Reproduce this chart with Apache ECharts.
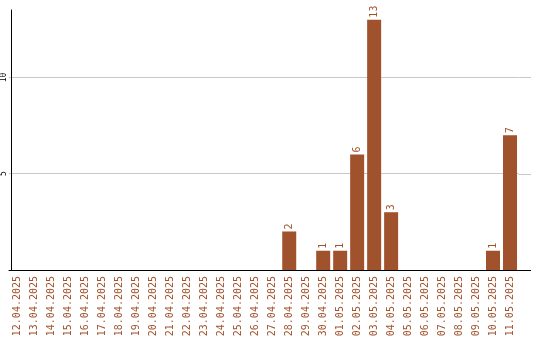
<!DOCTYPE html>
<html><head><meta charset="utf-8">
<script src="https://cdn.jsdelivr.net/npm/echarts@6/dist/echarts.min.js"></script>
<style>html,body{margin:0;padding:0;background:#fff}#c{width:540px;height:340px}</style>
</head><body><div id="c"></div>
<script>
var categories = ["12.04.2025","13.04.2025","14.04.2025","15.04.2025","16.04.2025","17.04.2025","18.04.2025","19.04.2025","20.04.2025","21.04.2025","22.04.2025","23.04.2025","24.04.2025","25.04.2025","26.04.2025","27.04.2025","28.04.2025","29.04.2025","30.04.2025","01.05.2025","02.05.2025","03.05.2025","04.05.2025","05.05.2025","06.05.2025","07.05.2025","08.05.2025","09.05.2025","10.05.2025","11.05.2025"];
var values = [0,0,0,0,0,0,0,0,0,0,0,0,0,0,0,0,2,0,1,1,6,13,3,0,0,0,0,0,1,7];
var gridValues = [5, 10];
var yTickLabels = ["5", "10"];

var chart = echarts.init(document.getElementById('c'), null, {renderer: 'canvas'});
var font = 'DejaVu Sans Mono';
var brown = '#a0522d';
var gridColor = '#c8c8c8';
chart.setOption({
  animation: false,
  grid: {left: 8.5, right: 21.5, top: 10, bottom: 70, containLabel: false},
  xAxis: {
    type: 'category', data: categories, boundaryGap: true,
    axisLine: {show: true, lineStyle: {color: '#000', width: 1}},
    axisTick: {show: false},
    axisLabel: {interval: 0, rotate: 90, color: brown, fontFamily: font, fontSize: 10, margin: 6}
  },
  yAxis: {
    type: 'value', min: 0, max: 13.5, interval: 5, offset: -2,
    axisLine: {show: true, lineStyle: {color: '#000', width: 1}},
    axisTick: {show: false},
    splitLine: {show: false},
    axisLabel: {
      rotate: 90, color: '#000', fontFamily: font, fontSize: 8, margin: 3,
      formatter: function (v) { var i = gridValues.indexOf(v); return i >= 0 ? yTickLabels[i] : ''; }
    }
  },
  series: [{
    type: 'bar', data: values, barWidth: 14,
    itemStyle: {color: brown},
    label: {
      show: true, position: 'top', rotate: 90, align: 'left', verticalAlign: 'middle', distance: 2,
      color: brown, fontFamily: font, fontSize: 10,
      formatter: function (p) { return p.value > 0 ? String(p.value) : ''; }
    },
    markLine: {
      silent: true, symbol: 'none', label: {show: false},
      lineStyle: {color: gridColor, type: 'solid', width: 1},
      data: gridValues.map(function (v) { return {yAxis: v}; }),
      z: 0
    }
  }]
});
// extend the axis line and grid lines to the right like the reference
var xEnd = 540 - 21.5, xExt = 531;
var gfx = [];
var y0 = Math.round(chart.convertToPixel({yAxisIndex: 0}, 0)) + 0.5;
gfx.push({type: 'line', shape: {x1: xEnd, y1: y0, x2: xExt, y2: y0}, style: {stroke: '#000', lineWidth: 1}});
gridValues.forEach(function (v) {
  var y = Math.round(chart.convertToPixel({yAxisIndex: 0}, v)) + 0.5;
  gfx.push({type: 'line', z: 0, shape: {x1: xEnd, y1: y, x2: xExt, y2: y}, style: {stroke: gridColor, lineWidth: 1}});
});
chart.setOption({graphic: gfx});
</script></body></html>
